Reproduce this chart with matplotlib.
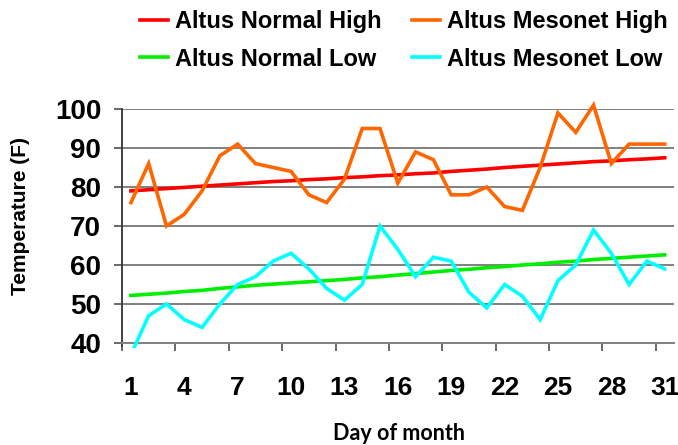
import matplotlib
matplotlib.use("Agg")
import matplotlib.pyplot as plt
from matplotlib.patches import Rectangle

days = list(range(1, 32))
normal_high = [79.0, 79.3, 79.6, 79.9, 80.2, 80.5, 80.8, 81.1, 81.4, 81.6,
               81.9, 82.1, 82.4, 82.6, 82.9, 83.1, 83.4, 83.6, 84.0, 84.3,
               84.6, 85.0, 85.3, 85.6, 85.9, 86.2, 86.5, 86.7, 87.0, 87.2, 87.5]
mesonet_high = [76, 86, 70, 73, 79, 88, 91, 86, 85, 84,
                78, 76, 82, 95, 95, 81, 89, 87, 78, 78,
                80, 75, 74, 85, 99, 94, 101, 86, 91, 91, 91]
normal_low = [52.2, 52.5, 52.8, 53.2, 53.5, 54.0, 54.4, 54.8, 55.1, 55.4,
              55.7, 56.0, 56.3, 56.7, 57.0, 57.4, 57.8, 58.2, 58.6, 58.9,
              59.3, 59.6, 60.0, 60.3, 60.7, 61.0, 61.4, 61.7, 62.0, 62.3, 62.6]
mesonet_low = [37, 47, 50, 46, 44, 50, 55, 57, 61, 63,
               59, 54, 51, 55, 70, 64, 57, 62, 61, 53,
               49, 55, 52, 46, 56, 60, 69, 63, 55, 61, 59]
xtick_labels = [1, 4, 7, 10, 13, 16, 19, 22, 25, 28, 31]
yticks = [40, 50, 60, 70, 80, 90, 100]

W, H = 678, 445
fig = plt.figure(figsize=(W / 100, H / 100), dpi=100)
ax = fig.add_axes([122 / W, 1 - 343 / H, (673.6 - 122) / W, (343 - 109) / H])

bold = dict(family=["Liberation Sans", "DejaVu Sans"], weight="bold")

series = [
    (normal_high, "#FF0000", "Altus Normal High"),
    (normal_low, "#00EE00", "Altus Normal Low"),
    (mesonet_high, "#FF6600", "Altus Mesonet High"),
    (mesonet_low, "#00FFFF", "Altus Mesonet Low"),
]
clip = Rectangle((0.5, 38.7), 31.5, 63.5, transform=ax.transData)
handles = []
for vals, col, lab in series:
    (ln,) = ax.plot(days, vals, color=col, lw=2.6, label=lab, zorder=3,
                    solid_joinstyle="miter")
    ln.set_clip_path(clip)
    handles.append(ln)

ax.set_xlim(0.5, 31.5)
ax.set_ylim(40, 100)
ax.set_yticks(yticks)
ax.set_yticklabels([str(v) for v in yticks], fontsize=20, **bold)
ax.set_xticks(xtick_labels)
ax.set_xticklabels([str(v) for v in xtick_labels], fontsize=19, **bold)
ax.set_xticks([d - 0.5 for d in xtick_labels], minor=True)
ax.tick_params(axis="x", which="major", length=0, pad=23.5)
ax.tick_params(axis="x", which="minor", length=6, width=1.1, color="#404040",
               direction="out")
ax.tick_params(axis="y", which="major", length=6, width=1.1, color="#404040",
               direction="out", pad=9)

ax.grid(axis="y", color="#808080", lw=1.4, zorder=1)
ax.set_axisbelow(True)
for s in ["top", "right"]:
    ax.spines[s].set_visible(False)
ax.spines["bottom"].set_color("#808080")
ax.spines["bottom"].set_linewidth(1.4)
ax.spines["left"].set_color("#404040")
ax.spines["left"].set_linewidth(1.4)
ax.spines["left"].set_bounds(39.2, 100)

fig.text(21 / W, 1 - 216 / H, "Temperature (F)", rotation=90, fontsize=15,
         ha="center", va="center", **bold)
fig.text(399 / W, 1 - 434 / H, "Day of month", fontsize=15.5,
         family=["Lato", "DejaVu Sans"], weight="bold", ha="center", va="center")

fig.legend(handles=handles, loc="upper left", bbox_to_anchor=(140 / W, 1 - 10 / H),
           ncol=2, frameon=False, borderpad=0, borderaxespad=0,
           handlelength=1.2, handletextpad=0.3, columnspacing=1.25,
           labelspacing=0.62, prop=dict(family=["Liberation Sans", "DejaVu Sans"],
                                        weight="bold", size=17))

fig.savefig("out.png", dpi=100)
